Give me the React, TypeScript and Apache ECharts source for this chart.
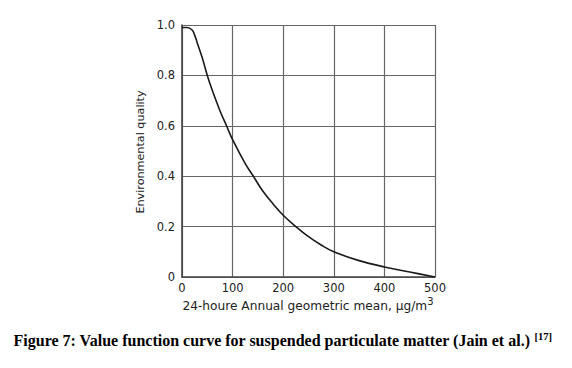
import React, { useEffect, useRef } from "react";
import * as echarts from "echarts";

const xValues = [0, 10, 20, 25, 30, 40, 50, 60, 75, 88, 100, 125, 141, 160, 180, 200, 225, 250, 275, 300, 350, 400, 450, 500];
const yValues = [0.99, 0.99, 0.98, 0.96, 0.93, 0.87, 0.8, 0.74, 0.66, 0.6, 0.545, 0.45, 0.4, 0.34, 0.29, 0.245, 0.2, 0.16, 0.127, 0.1, 0.065, 0.04, 0.02, 0];
const yTickLabels = ["0", "0.2", "0.4", "0.6", "0.8", "1.0"];
const xAxisTitle = "24-houre Annual geometric mean, μg/m";
const yAxisTitle = "Environmental quality";
const caption = "Figure 7: Value function curve for suspended particulate matter (Jain et al.) ";
const captionRef = "[17]";

export default function App() {
  const ref = useRef<HTMLDivElement>(null);
  useEffect(() => {
    if (!ref.current) return;
    const chart = echarts.init(ref.current, undefined, { renderer: "svg" });
    const data = xValues.map((x, i) => [x, yValues[i]]);
    const font = "DejaVu Sans";
    chart.setOption({
      animation: false,
      backgroundColor: "#ffffff",
      grid: { left: 182, right: 137, top: 25, bottom: 91 },
      xAxis: {
        type: "value",
        min: 0,
        max: 500,
        interval: 100,
        axisLine: { show: true, lineStyle: { color: "#444", width: 1.6 } },
        axisTick: { show: false },
        axisLabel: { color: "#222", fontFamily: font, fontSize: 11.5, margin: 5 },
        splitLine: { show: true, lineStyle: { color: "#666", width: 1.2 } },
      },
      yAxis: {
        type: "value",
        min: 0,
        max: 1,
        interval: 0.2,
        axisLine: { show: true, lineStyle: { color: "#444", width: 1.6 } },
        axisTick: { show: false },
        axisLabel: {
          color: "#222",
          fontFamily: font,
          fontSize: 11.5,
          margin: 7,
          formatter: (v: number) => yTickLabels[Math.round(v / 0.2)],
        },
        splitLine: { show: true, lineStyle: { color: "#666", width: 1.2 } },
      },
      series: [
        {
          type: "line",
          data,
          smooth: 0.4,
          symbol: "none",
          lineStyle: { color: "#1a1a1a", width: 1.6 },
        },
      ],
      graphic: [
        {
          type: "text",
          x: 140,
          y: 152,
          rotation: Math.PI / 2,
          style: {
            text: yAxisTitle,
            fontFamily: font,
            fontSize: 11.2,
            fill: "#222",
            align: "center",
            verticalAlign: "middle",
          },
        },
        {
          type: "text",
          x: 308,
          y: 304,
          style: {
            text: "{a|" + xAxisTitle + "}{s|3}",
            align: "center",
            verticalAlign: "middle",
            rich: {
              a: { fontFamily: font, fontSize: 12.2, fill: "#222", verticalAlign: "bottom" },
              s: { fontFamily: font, fontSize: 10, fill: "#222", verticalAlign: "top", padding: [0, 0, 6, 0] },
            },
          },
        },
        {
          type: "text",
          x: 282.5,
          y: 340,
          style: {
            text: "{a|" + caption + "}{s|" + captionRef + "}",
            align: "center",
            verticalAlign: "middle",
            rich: {
              a: { fontFamily: "Liberation Serif", fontWeight: "bold", fontSize: 16, fill: "#000" },
              s: { fontFamily: "Liberation Serif", fontWeight: "bold", fontSize: 10.5, fill: "#000", padding: [0, 0, 8, 0] },
            },
          },
        },
      ],
    });
    return () => chart.dispose();
  }, []);
  return (
    <div
      ref={ref}
      style={{ position: "fixed", left: 0, top: 0, width: 572, height: 368, background: "#fff" }}
    />
  );
}
